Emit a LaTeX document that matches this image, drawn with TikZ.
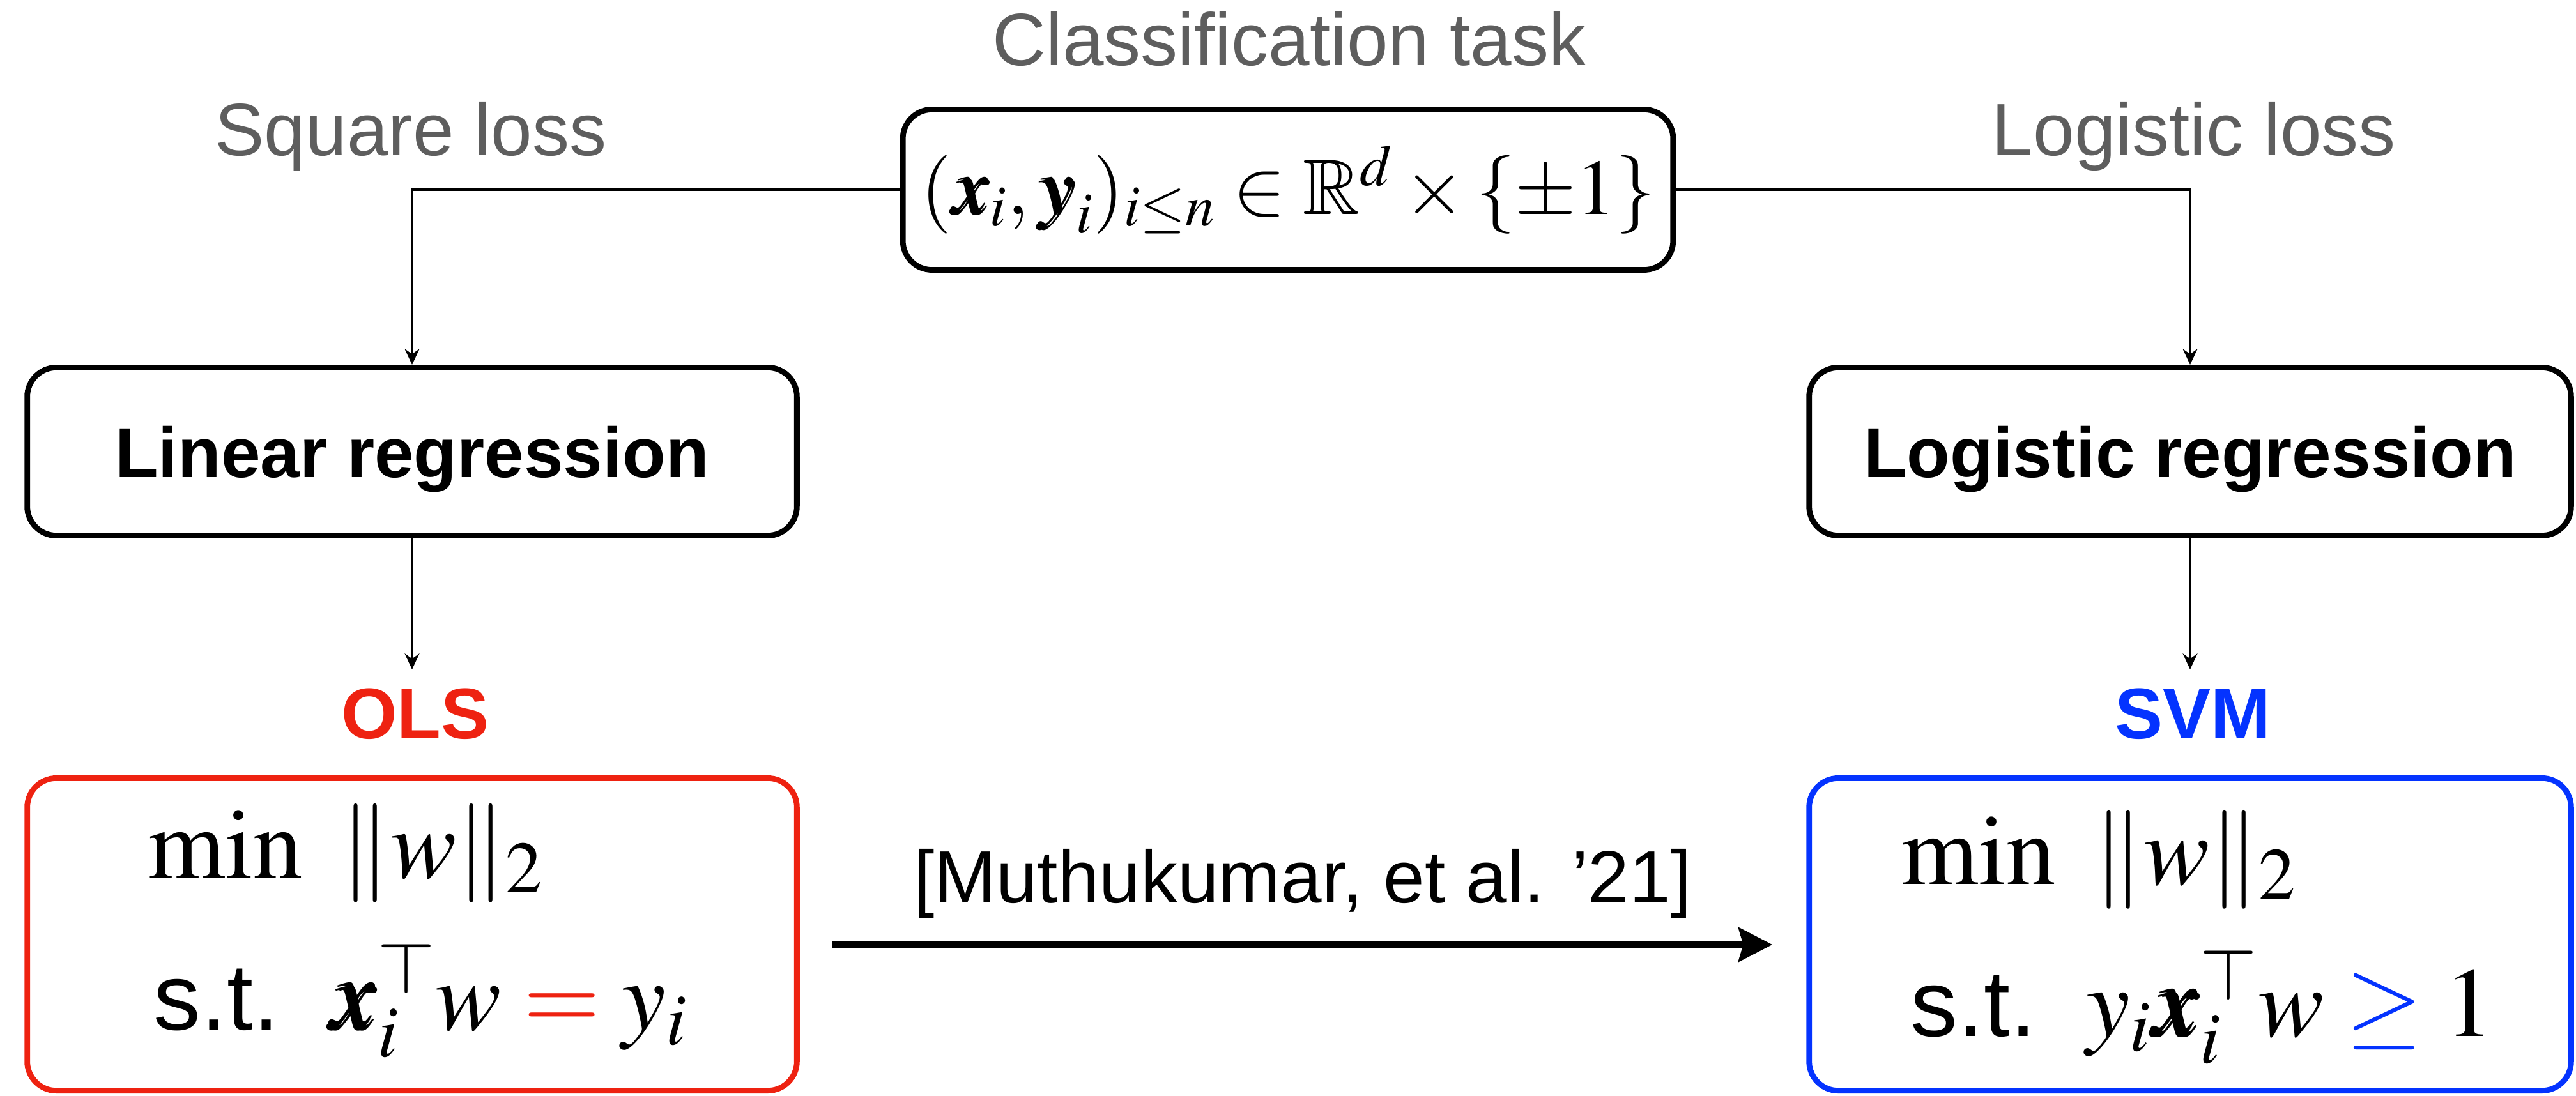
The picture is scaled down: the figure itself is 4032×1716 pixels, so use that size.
\documentclass[tikz,border=0pt]{standalone}
\usepackage{mathptmx}
\usepackage{amssymb}
\usepackage{bm}
\usepackage[no-math]{fontspec}
\setmainfont{Liberation Sans}
\usetikzlibrary{arrows.meta}
\definecolor{olsred}{RGB}{238,34,17}
\definecolor{svmblue}{RGB}{4,51,255}
\definecolor{labgray}{RGB}{94,94,94}
\tikzset{
  box/.style={draw, line width=2.5pt, rounded corners=13pt, inner sep=0pt},
  lbl/.style={text=labgray, font=\fontsize{33}{40}\selectfont, anchor=base},
  head/.style={font=\bfseries\fontsize{31.5}{38}\selectfont, text depth=0pt},
  tag/.style={font=\bfseries\fontsize{32}{38}\selectfont, anchor=base},
  conn/.style={line width=1pt, -{Stealth[length=7pt,width=6.5pt]}},
  mth/.style={anchor=base west, inner sep=0pt, font=\fontsize{44}{50}\selectfont}
}
\newcommand{\stlab}{{\fontsize{42}{46}\selectfont s.t.}\hspace{0.5em}}
\begin{document}
\begin{tikzpicture}[x=0.01cm,y=-0.01cm]
\useasboundingbox (0,0) rectangle (4032,1716);
% labels
\node[lbl] (cls) at (2018,103) {Classification task};
\node[lbl] (sq) at (643,244) {Square loss};
\node[lbl] (lg) at (3434,244) {Logistic loss};
% top box
\node[box, minimum width=12.05cm, minimum height=2.51cm] (top) at (2016,297)
  {\fontsize{35}{40}\selectfont $(\bm{x}_i,\bm{y}_i)_{i\le n}\in\mathbb{R}^d\times\{\pm1\}$};
% regression boxes
\node[box, head, minimum width=12.04cm, minimum height=2.63cm] (lin) at (645,707) {Linear regression};
\node[box, head, minimum width=11.92cm, minimum height=2.63cm] (log) at (3428,707) {Logistic regression};
% tags
\node[tag, text=olsred] (olsl) at (650,1157) {OLS};
\node[tag, text=svmblue] (svml) at (3432,1157) {SVM};
% bottom boxes
\node[box, draw=olsred, minimum width=12.04cm, minimum height=4.89cm] (ols) at (645,1463) {};
\node[box, draw=svmblue, minimum width=11.92cm, minimum height=4.89cm] (svm) at (3428,1463) {};
% contents
\node[mth] (olsmin) at (232,1374) {$\min\ \|w\|_2$};
\node[mth] (olsst) at (240,1612) {\stlab$\bm{x}_i^{\top}w\mathrel{\textcolor{olsred}{=}}y_i$};
\node[mth] (svmmin) at (2976,1384) {$\min\ \|w\|_2$};
\node[mth] (svmst) at (2990,1622) {\stlab$y_i\bm{x}_i^{\top}w\mathrel{\textcolor{svmblue}{\geq}}1$};
% connectors
\draw[conn] (top.west) -| (lin.north);
\draw[conn] (top.east) -| (log.north);
\draw[conn, shorten >=0.18cm] (lin.south) -- (lin.south |- olsl.north);
\draw[conn, shorten >=0.18cm] (log.south) -- (log.south |- svml.north);
\node[anchor=base, font=\fontsize{33}{40}\selectfont] (cite) at (2039,1413) {[Muthukumar, et al. ’21]};
\draw[line width=3.6pt, -{Stealth[length=15pt,width=15pt,inset=2pt]}, shorten <=0.51cm, shorten >=0.53cm]
  ([yshift=-0.16cm]ols.east) -- ([yshift=-0.16cm]svm.west);
\end{tikzpicture}
\end{document}
